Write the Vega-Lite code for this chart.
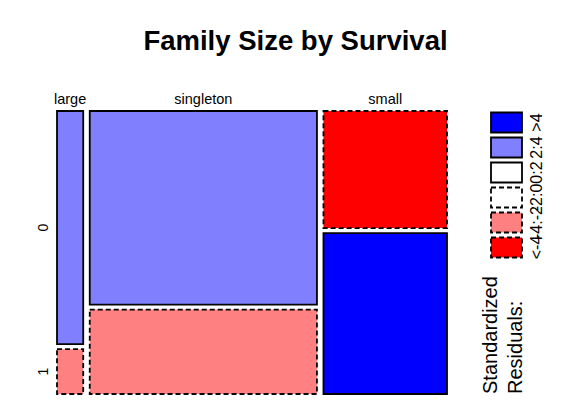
{
  "$schema": "https://vega.github.io/schema/vega-lite/v6.json",
  "padding": {"left": 37, "top": 27, "right": 5, "bottom": 5},
  "bounds": "flush",
  "spacing": 44,
  "config": {
    "view": {"stroke": null},
    "background": "white",
    "font": "Liberation Sans"
  },
  "title": {
    "text": "Family Size by Survival",
    "fontSize": 27.5,
    "fontWeight": "bold",
    "font": "Liberation Sans",
    "color": "black",
    "anchor": "middle",
    "dx": 5,
    "offset": 37
  },
  "datasets": {
    "cells": [
      {"family": "large", "survived": 0, "n": 52, "resid": 2.23},
      {"family": "large", "survived": 1, "n": 10, "resid": -2.83},
      {"family": "singleton", "survived": 0, "n": 374, "resid": 2.37},
      {"family": "singleton", "survived": 1, "n": 163, "resid": -3.0},
      {"family": "small", "survived": 0, "n": 123, "resid": -4.24},
      {"family": "small", "survived": 1, "n": 169, "resid": 5.37}
    ],
    "bins": [
      {"bin": ">4", "lo": 4},
      {"bin": "2:4", "lo": 2},
      {"bin": "0:2", "lo": 0},
      {"bin": "-2:0", "lo": -2},
      {"bin": "-4:-2", "lo": -4},
      {"bin": "<-4", "lo": -99}
    ]
  },
  "hconcat": [
    {
      "width": 390,
      "height": 283,
      "data": {"name": "cells"},
      "transform": [
        {"joinaggregate": [{"op": "sum", "field": "n", "as": "famTotal"}], "groupby": ["family"]},
        {"window": [{"op": "sum", "field": "n", "as": "cum"}, {"op": "dense_rank", "as": "famIdx"}], "sort": [{"field": "family"}]},
        {"stack": "n", "groupby": ["family"], "sort": [{"field": "survived"}], "as": ["s0", "s1"]},
        {"calculate": "datum.cum - datum.famTotal + (datum.famIdx - 1) * 15.4", "as": "x0"},
        {"calculate": "datum.cum + (datum.famIdx - 1) * 15.4", "as": "x1"},
        {"calculate": "(datum.x0 + datum.x1) / 2", "as": "xm"},
        {"calculate": "datum.s0 / datum.famTotal + datum.survived * 0.018", "as": "y0"},
        {"calculate": "datum.s1 / datum.famTotal + datum.survived * 0.018", "as": "y1"},
        {"calculate": "(datum.y0 + datum.y1) / 2", "as": "ym"},
        {"calculate": "datum.resid > 4 ? '>4' : datum.resid > 2 ? '2:4' : datum.resid > 0 ? '0:2' : datum.resid > -2 ? '-2:0' : datum.resid > -4 ? '-4:-2' : '<-4'", "as": "bin"}
      ],
      "encoding": {
        "x": {"field": "x0", "type": "quantitative", "scale": {"domain": [0, 921.8], "nice": false, "zero": false}, "axis": null},
        "x2": {"field": "x1"},
        "y": {"field": "y0", "type": "quantitative", "scale": {"domain": [0, 1.018], "nice": false, "reverse": true}, "axis": null},
        "y2": {"field": "y1"},
        "fill": {
          "field": "bin",
          "type": "nominal",
          "scale": {
            "domain": [">4", "2:4", "0:2", "-2:0", "-4:-2", "<-4"],
            "range": ["#0000FF", "#8080FF", "#FFFFFF", "#FFFFFF", "#FF8080", "#FF0000"]
          },
          "legend": null
        }
      },
      "layer": [
        {
          "transform": [{"filter": "datum.resid >= 0"}],
          "mark": {"type": "rect", "stroke": "black", "strokeWidth": 1.8}
        },
        {
          "transform": [{"filter": "datum.resid < 0"}],
          "mark": {"type": "rect", "stroke": "black", "strokeWidth": 1.8, "strokeDash": [5, 3]}
        },
        {
          "transform": [{"filter": "datum.survived == 0"}],
          "mark": {"type": "text", "baseline": "alphabetic", "align": "center", "dy": -7, "fontSize": 14.5, "color": "black"},
          "encoding": {
            "x": {"field": "xm", "type": "quantitative"},
            "x2": null,
            "y": {"datum": 0},
            "y2": null,
            "fill": null,
            "text": {"field": "family"}
          }
        },
        {
          "transform": [{"filter": "datum.family == 'large'"}],
          "mark": {"type": "text", "angle": 270, "align": "center", "baseline": "middle", "dy": -13, "fontSize": 14, "color": "black"},
          "encoding": {
            "x": {"datum": 0},
            "x2": null,
            "y": {"field": "ym", "type": "quantitative"},
            "y2": null,
            "fill": null,
            "text": {"field": "survived"}
          }
        }
      ]
    },
    {
      "width": 31,
      "height": 283,
      "layer": [
        {
          "data": {"name": "bins"},
          "encoding": {
            "y": {
              "field": "bin",
              "type": "nominal",
              "sort": null,
              "scale": {
                "domain": [">4", "2:4", "0:2", "-2:0", "-4:-2", "<-4"],
                "range": [1.5, 146.5],
                "paddingInner": 0.2,
                "paddingOuter": 0
              },
              "axis": {
                "orient": "right",
                "title": null,
                "domain": false,
                "ticks": false,
                "labelAngle": 270,
                "labelAlign": "center",
                "labelBaseline": "top",
                "labelPadding": 6,
                "labelFontSize": 16,
                "labelFont": "Liberation Sans",
                "labelColor": "black",
                "labelOverlap": false
              }
            },
            "fill": {
              "field": "bin",
              "type": "nominal",
              "scale": {
                "domain": [">4", "2:4", "0:2", "-2:0", "-4:-2", "<-4"],
                "range": ["#0000FF", "#8080FF", "#FFFFFF", "#FFFFFF", "#FF8080", "#FF0000"]
              },
              "legend": null
            }
          },
          "layer": [
            {
              "transform": [{"filter": "datum.lo >= 0"}],
              "mark": {"type": "rect", "stroke": "black", "strokeWidth": 1.8}
            },
            {
              "transform": [{"filter": "datum.lo < 0"}],
              "mark": {"type": "rect", "stroke": "black", "strokeWidth": 1.8, "strokeDash": [5, 3]}
            }
          ]
        },
        {
          "data": {"values": [{}]},
          "mark": {
            "type": "text",
            "text": ["Standardized", "Residuals:"],
            "angle": 270,
            "align": "left",
            "baseline": "middle",
            "fontSize": 20,
            "lineHeight": 25,
            "color": "black"
          },
          "encoding": {
            "x": {"value": 0},
            "y": {"value": "height"}
          }
        }
      ]
    }
  ]
}
